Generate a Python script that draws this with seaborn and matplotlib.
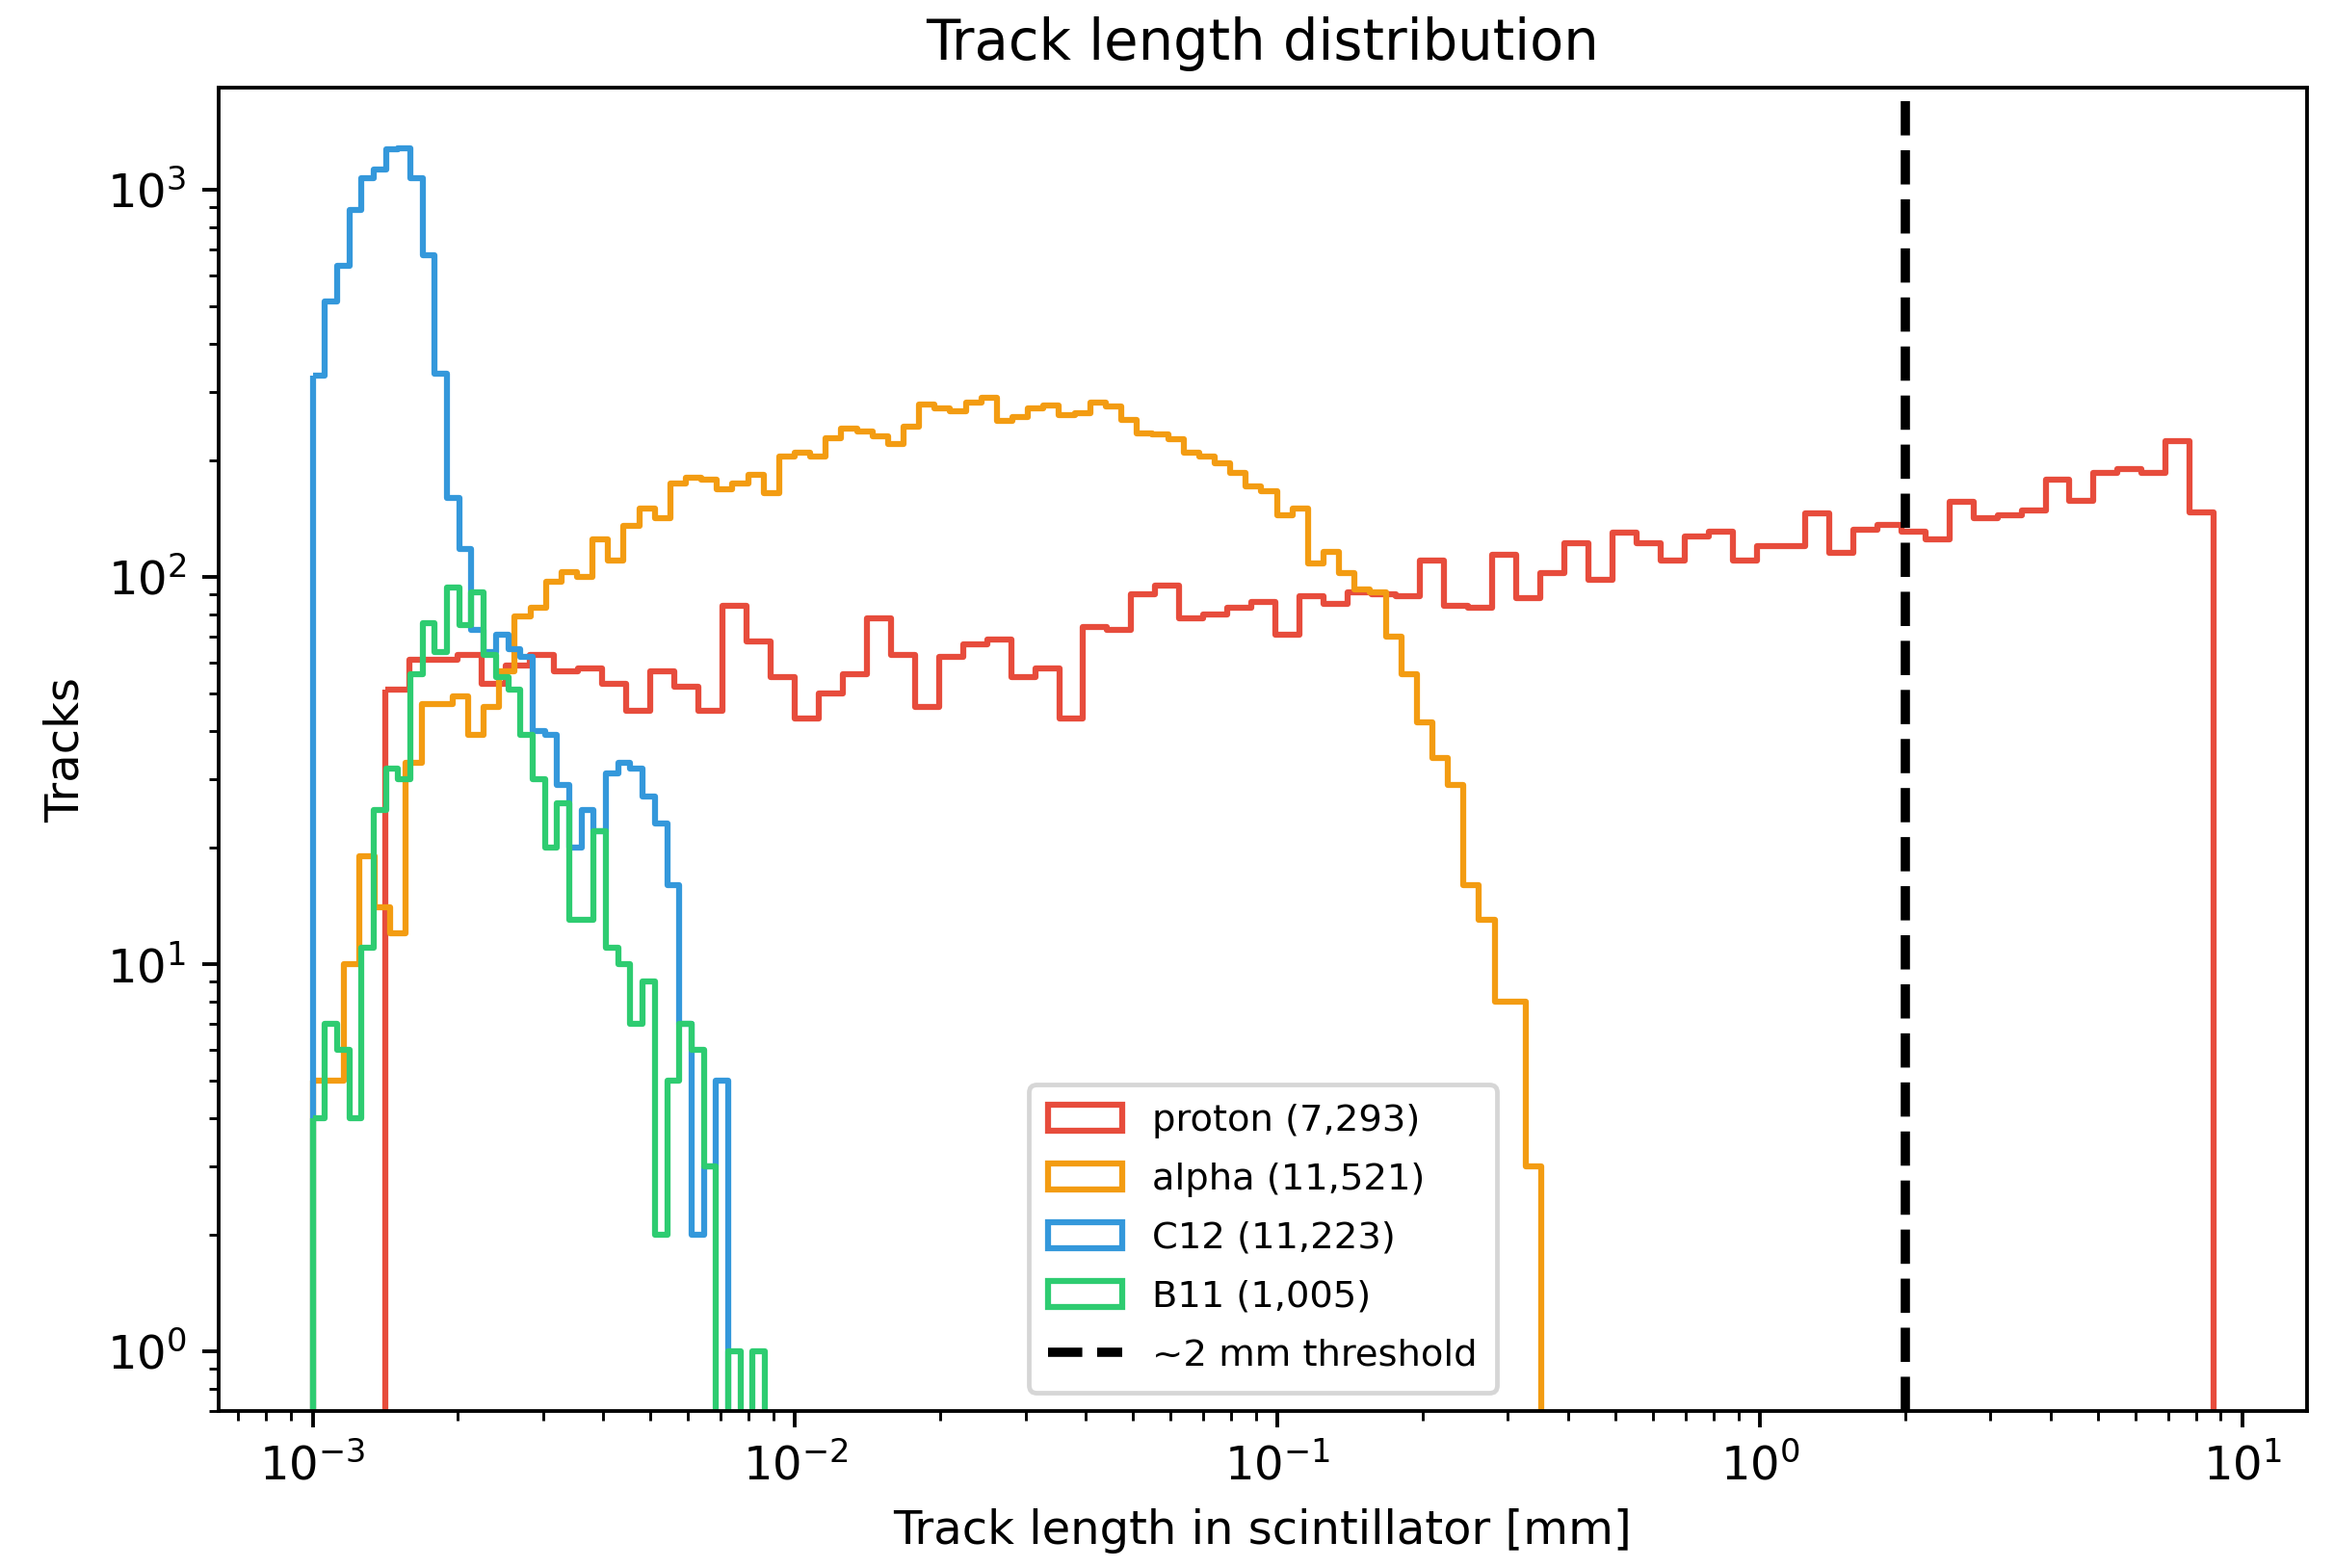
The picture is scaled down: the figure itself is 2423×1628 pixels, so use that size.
import numpy as np
import pandas as pd
import matplotlib
matplotlib.use("Agg")
import matplotlib.pyplot as plt
import seaborn as sns

# ---- data (log10 bin ranges in mm, counts per bin) ----
labels = ["proton (7,293)", "alpha (11,521)", "C12 (11,223)", "B11 (1,005)"]
colors = ["#e74c3c", "#f39c12", "#3498db", "#2ecc71"]

proton_log_range = (-2.849, 0.940)
proton_counts = [51, 61, 61, 63, 53, 59, 63, 57, 58, 53, 45, 57, 52, 45, 84, 68, 55, 43, 50, 56, 78, 63, 46, 62, 67,
                 69, 55, 58, 43, 74, 73, 90, 95, 78, 80, 83, 86, 71, 89, 85, 91, 90, 89, 110, 84, 83, 114, 88, 102, 122, 98,
                 130, 122, 110, 127, 131, 110, 120, 120, 146, 115, 132, 136, 131, 125, 156, 142, 144, 148, 178, 157, 185,
                 190, 185, 224, 147]

alpha_log_range = (-3.0, -0.454)
alpha_counts = [5, 5, 10, 19, 14, 12, 33, 47, 47, 49, 39, 46, 57,
                79, 83, 97, 103, 100, 125, 110, 135, 150, 142, 174, 180, 178, 168, 174, 183, 164,
                205, 209, 205, 228, 241, 237, 230, 220, 244,
                279, 273, 267, 281, 290, 253, 258, 273, 277, 261, 264, 281, 276, 254, 235, 233, 227, 209, 204,
                196, 186, 171, 166, 144, 150, 108, 116, 102,
                93, 91, 70, 56, 42, 34, 29, 16, 13, 8, 8, 3]

c12_log_range = (-3.0, -2.1388)
c12_counts = [331, 513, 635, 888, 1070, 1130, 1270, 1275, 1070, 678, 334, 160, 118, 73, 64, 71, 65, 62, 40, 39,
              29, 20, 25, 22, 31, 33, 32, 27, 23, 16, 7, 2, 3, 5]

b11_log_range = (-3.0, -2.0628)
b11_counts = [4, 7, 6, 4, 11, 25, 32, 30, 56, 76, 64, 94, 75, 91, 63, 55, 51, 39, 30, 20, 26, 13, 13, 22, 11, 10,
              7, 9, 2, 5, 7, 6, 3, 0, 1, 0, 1]

threshold_mm = 2.0
threshold_label = "~2 mm threshold"

ranges = [proton_log_range, alpha_log_range, c12_log_range, b11_log_range]
counts_all = [proton_counts, alpha_counts, c12_counts, b11_counts]

# ---- figure ----
fig = plt.figure(figsize=(2423 / 346, 1628 / 346), dpi=346)
ax = fig.add_axes([0.0937, 0.1001, 0.8947, 0.8440])
ax.set_yscale("log")

for label, color, (lo, hi), counts in zip(labels, colors, ranges, counts_all):
    counts = np.asarray(counts, dtype=float)
    n = len(counts)
    log_edges = np.linspace(lo, hi, n + 1)
    centers = 10 ** ((log_edges[:-1] + log_edges[1:]) / 2)
    df = pd.DataFrame({"length": centers, "count": counts})
    sns.histplot(data=df, x="length", weights="count", bins=n, binrange=(lo, hi),
                 log_scale=True, element="step", fill=True, color=color,
                 facecolor="none", edgecolor=color, linewidth=1.3,
                 label=label, ax=ax)

ax.axvline(threshold_mm, color="black", linestyle="--", linewidth=2, label=threshold_label)

ax.set_xlim(10 ** -3.1946, 10 ** 1.1327)
ax.set_ylim(0.7, 1834)
ax.set_xlabel("Track length in scintillator [mm]")
ax.set_ylabel("Tracks")
ax.set_title("Track length distribution")
ax.legend(loc="lower center", fontsize=8, labelspacing=0.65, borderpad=0.52)

fig.savefig("out.png", dpi=346)
